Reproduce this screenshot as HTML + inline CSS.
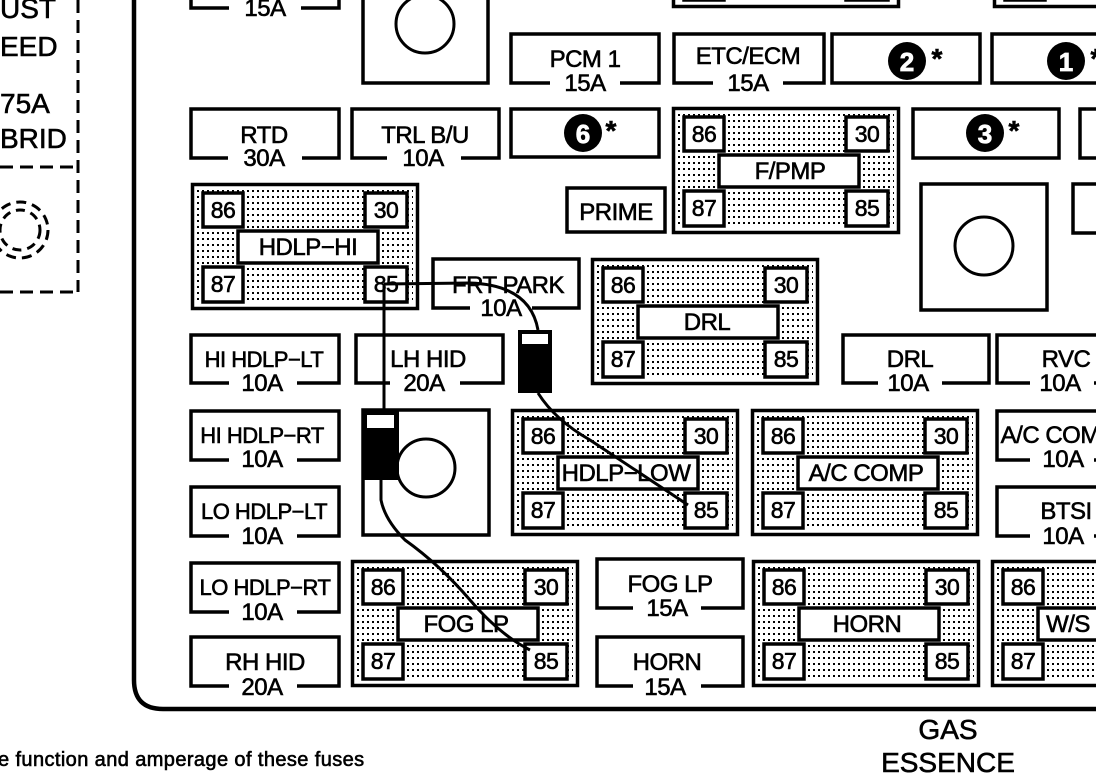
<!DOCTYPE html>
<html><head><meta charset="utf-8"><style>
html,body{margin:0;padding:0;background:#fff;width:1096px;height:775px;overflow:hidden}
svg{display:block}
text{font-family:"Liberation Sans",Arial,sans-serif;fill:#000;stroke:#000;stroke-width:0.6}
.f{fill:#fff;stroke:#000;stroke-width:3.5}
.t{font-size:24px;text-anchor:middle;letter-spacing:-0.5px}
.p{font-size:23px;text-anchor:middle;letter-spacing:-0.5px}
.pin{fill:#fff;stroke:#000;stroke-width:3.5}
.w{fill:none;stroke:#000;stroke-width:3}
.n{font-size:26px;fill:#fff;stroke:#fff;stroke-width:0.8;text-anchor:middle;font-weight:bold}
.s{font-size:28px;text-anchor:middle;font-weight:bold}
</style></head><body>
<svg width="1096" height="775" viewBox="0 0 1096 775" xmlns="http://www.w3.org/2000/svg">
<defs>
<pattern id="dots" width="5" height="6" patternUnits="userSpaceOnUse">
<rect width="5" height="6" fill="#fff"/><rect x="1" y="1" width="2" height="2" fill="#000"/>
</pattern>
<g id="relay">
<rect x="1.5" y="1.5" width="225" height="124" fill="url(#dots)" stroke="#000" stroke-width="3.5"/>
<rect x="5" y="5" width="218" height="117" fill="none" stroke="#fff" stroke-width="2"/>
<rect class="pin" x="12" y="10" width="40" height="34"/>
<rect class="pin" x="174" y="10" width="42" height="34"/>
<rect class="pin" x="12" y="84" width="40" height="35"/>
<rect class="pin" x="174" y="84" width="42" height="35"/>
<rect class="pin" x="47" y="48" width="140" height="32"/>
</g>
</defs>

<!-- left dashed area -->
<g stroke="#000" stroke-width="3" stroke-dasharray="13,7" fill="none">
<line x1="78" y1="0" x2="78" y2="292"/>
<line x1="0" y1="167" x2="78" y2="167"/>
<line x1="0" y1="292" x2="78" y2="292"/>
<circle cx="20" cy="230" r="28" stroke-width="3" stroke-dasharray="10,6"/>
<circle cx="20" cy="230" r="20" stroke-width="3" stroke-dasharray="9,6"/>
</g>
<text x="0" y="18" style="font-size:28px">UST</text>
<text x="0" y="56" style="font-size:28px">EED</text>
<text x="0" y="113" style="font-size:28px">75A</text>
<text x="0" y="148" style="font-size:28px">BRID</text>

<!-- panel outline -->
<path d="M134,0 L134,680 Q134,709 163,709 L1096,709" fill="none" stroke="#000" stroke-width="4.5"/>

<!-- top partial -->
<path d="M191,-10 L191,8 L339,8 L339,-10" class="f"/>
<rect x="229" y="3" width="72" height="10" fill="#fff"/>
<text class="t" x="265" y="16">15A</text>
<rect x="363" y="-10" width="125" height="93" class="f"/>
<circle cx="425" cy="24" r="29" fill="none" stroke="#000" stroke-width="3"/>
<use href="#relay" x="672" y="-119"/>
<use href="#relay" x="993" y="-119"/>

<!-- fuses row 1 -->
<rect class="f" x="511" y="34" width="148" height="49"/><rect x="550" y="78" width="70" height="10" fill="#fff"/>
<text class="t" x="585" y="67">PCM 1</text><text class="t" x="585" y="91">15A</text>
<rect class="f" x="674" y="34" width="150" height="49"/><rect x="713" y="78" width="70" height="10" fill="#fff"/>
<text class="t" x="748" y="64">ETC/ECM</text><text class="t" x="748" y="91">15A</text>
<rect class="f" x="832" y="34" width="148" height="49"/>
<circle cx="907" cy="61" r="19"/><text class="n" x="907" y="71">2</text>
<text class="s" x="937" y="68">*</text>
<rect class="f" x="992" y="34" width="120" height="49"/>
<circle cx="1066" cy="61" r="19"/><text class="n" x="1066" y="71">1</text>
<text class="s" x="1096" y="68">*</text>

<!-- row 2 -->
<rect class="f" x="191" y="109" width="148" height="49"/><rect x="228" y="153" width="74" height="10" fill="#fff"/>
<text class="t" x="264" y="143">RTD</text><text class="t" x="264" y="166">30A</text>
<rect class="f" x="352" y="109" width="147" height="49"/><rect x="387" y="153" width="74" height="10" fill="#fff"/>
<text class="t" x="425" y="143">TRL B/U</text><text class="t" x="423" y="166">10A</text>
<rect class="f" x="511" y="109" width="148" height="48"/>
<circle cx="583" cy="133" r="19"/><text class="n" x="583" y="143">6</text>
<text class="s" x="611" y="140">*</text>
<use href="#relay" x="672" y="107"/>
<text class="p" x="704" y="142">86</text><text class="p" x="867" y="142">30</text>
<text class="t" x="790" y="179">F/PMP</text>
<text class="p" x="704" y="216">87</text><text class="p" x="867" y="216">85</text>
<rect class="f" x="913" y="109" width="146" height="49"/>
<circle cx="985" cy="133" r="19"/><text class="n" x="985" y="143">3</text>
<text class="s" x="1014" y="140">*</text>
<rect class="f" x="1080" y="109" width="40" height="49"/>

<!-- row 3 -->
<rect class="f" x="567" y="188" width="98" height="44"/>
<text class="t" x="616" y="220">PRIME</text>
<use href="#relay" x="191" y="183"/>
<text class="p" x="223" y="218">86</text><text class="p" x="386" y="218">30</text>
<text class="t" x="308" y="255">HDLP−HI</text>
<text class="p" x="223" y="292">87</text><text class="p" x="386" y="292">85</text>
<rect class="f" x="921" y="184" width="126" height="126"/>
<circle cx="984" cy="246" r="29" fill="none" stroke="#000" stroke-width="3"/>
<rect class="f" x="1073" y="184" width="40" height="49"/>

<rect class="f" x="433" y="259" width="146" height="49"/><rect x="470" y="303" width="62" height="10" fill="#fff"/>
<text class="t" x="508" y="293">FRT PARK</text><text class="t" x="501" y="316">10A</text>
<use href="#relay" x="591" y="258"/>
<text class="p" x="623" y="293">86</text><text class="p" x="786" y="293">30</text>
<text class="t" x="707" y="330">DRL</text>
<text class="p" x="623" y="367">87</text><text class="p" x="786" y="367">85</text>

<!-- row 4 -->
<rect class="f" x="191" y="335" width="148" height="48"/><rect x="229" y="378" width="68" height="10" fill="#fff"/>
<text x="264" y="367" style="font-size:22px;text-anchor:middle;letter-spacing:-0.5px">HI HDLP−LT</text><text class="t" x="262" y="391">10A</text>
<rect class="f" x="356" y="335" width="147" height="48"/><rect x="390" y="378" width="70" height="10" fill="#fff"/>
<text class="t" x="428" y="367">LH HID</text><text class="t" x="424" y="391">20A</text>
<rect class="f" x="843" y="335" width="146" height="48"/><rect x="878" y="378" width="64" height="10" fill="#fff"/>
<text class="t" x="910" y="367">DRL</text><text class="t" x="908" y="391">10A</text>
<rect class="f" x="997" y="335" width="120" height="48"/><rect x="1030" y="378" width="64" height="10" fill="#fff"/>
<text class="t" x="1066" y="367">RVC</text><text class="t" x="1060" y="391">10A</text>

<!-- row 5 -->
<rect class="f" x="191" y="411" width="148" height="49"/><rect x="229" y="455" width="68" height="10" fill="#fff"/>
<text x="262" y="443" style="font-size:22px;text-anchor:middle;letter-spacing:-0.5px">HI HDLP−RT</text><text class="t" x="262" y="467">10A</text>
<rect class="f" x="363" y="410" width="126" height="125"/>
<circle cx="426" cy="468" r="29" fill="none" stroke="#000" stroke-width="3"/>
<use href="#relay" x="511" y="409"/>
<text class="p" x="543" y="444">86</text><text class="p" x="706" y="444">30</text>
<text class="t" x="626" y="481">HDLP−LOW</text>
<text class="p" x="543" y="518">87</text><text class="p" x="706" y="518">85</text>
<use href="#relay" x="751" y="409"/>
<text class="p" x="783" y="444">86</text><text class="p" x="946" y="444">30</text>
<text class="t" x="866" y="481">A/C COMP</text>
<text class="p" x="783" y="518">87</text><text class="p" x="946" y="518">85</text>
<rect class="f" x="997" y="411" width="120" height="49"/><rect x="1030" y="455" width="64" height="10" fill="#fff"/>
<text class="t" x="1058" y="443">A/C COMP</text><text class="t" x="1063" y="467">10A</text>

<!-- row 6 -->
<rect class="f" x="191" y="487" width="148" height="49"/><rect x="229" y="531" width="68" height="10" fill="#fff"/>
<text x="264" y="519" style="font-size:22px;text-anchor:middle;letter-spacing:-0.5px">LO HDLP−LT</text><text class="t" x="262" y="544">10A</text>
<rect class="f" x="997" y="487" width="120" height="49"/><rect x="1030" y="531" width="64" height="10" fill="#fff"/>
<text class="t" x="1066" y="519">BTSI</text><text class="t" x="1063" y="544">10A</text>

<!-- row 7 -->
<rect class="f" x="191" y="563" width="148" height="49"/><rect x="229" y="607" width="68" height="10" fill="#fff"/>
<text x="265" y="595" style="font-size:22px;text-anchor:middle;letter-spacing:-0.5px">LO HDLP−RT</text><text class="t" x="262" y="620">10A</text>
<use href="#relay" x="351" y="560"/>
<text class="p" x="383" y="595">86</text><text class="p" x="546" y="595">30</text>
<text class="t" x="466" y="632">FOG LP</text>
<text class="p" x="383" y="669">87</text><text class="p" x="546" y="669">85</text>
<rect class="f" x="597" y="559" width="146" height="49"/><rect x="633" y="603" width="68" height="10" fill="#fff"/>
<text class="t" x="670" y="592">FOG LP</text><text class="t" x="667" y="616">15A</text>
<use href="#relay" x="752" y="560"/>
<text class="p" x="784" y="595">86</text><text class="p" x="947" y="595">30</text>
<text class="t" x="867" y="632">HORN</text>
<text class="p" x="784" y="669">87</text><text class="p" x="947" y="669">85</text>
<use href="#relay" x="991" y="560"/>
<text class="p" x="1023" y="595">86</text>
<text class="t" x="1068" y="632">W/S</text>
<text class="p" x="1023" y="669">87</text>

<!-- row 8 -->
<rect class="f" x="191" y="637" width="148" height="49"/><rect x="229" y="681" width="68" height="10" fill="#fff"/>
<text class="t" x="265" y="670">RH HID</text><text class="t" x="262" y="695">20A</text>
<rect class="f" x="597" y="637" width="146" height="49"/><rect x="633" y="681" width="68" height="10" fill="#fff"/>
<text class="t" x="667" y="670">HORN</text><text class="t" x="665" y="695">15A</text>

<!-- wires -->
<path class="w" d="M384,284 L470,283 Q530,285 538,330"/>
<path class="w" d="M384,284 L384,410"/>
<path class="w" d="M538,393 Q555,420 590,440 Q650,480 688,505"/>
<path class="w" d="M381,480 L381,500 Q385,520 405,540 Q440,565 470,600 Q500,635 530,650"/>
<rect x="518" y="330" width="34" height="63" fill="#000"/>
<rect x="522" y="334" width="26" height="10" fill="#fff"/>
<rect x="362" y="410" width="37" height="70" fill="#000"/>
<rect x="367" y="415" width="27" height="13" fill="#fff"/>

<!-- bottom text -->
<text x="-2" y="766" style="font-size:20px;letter-spacing:0.4px">e function and amperage of these fuses</text>
<text x="948" y="739" style="font-size:28px;text-anchor:middle">GAS</text>
<text x="948" y="772" style="font-size:28px;text-anchor:middle">ESSENCE</text>
</svg>
</body></html>
